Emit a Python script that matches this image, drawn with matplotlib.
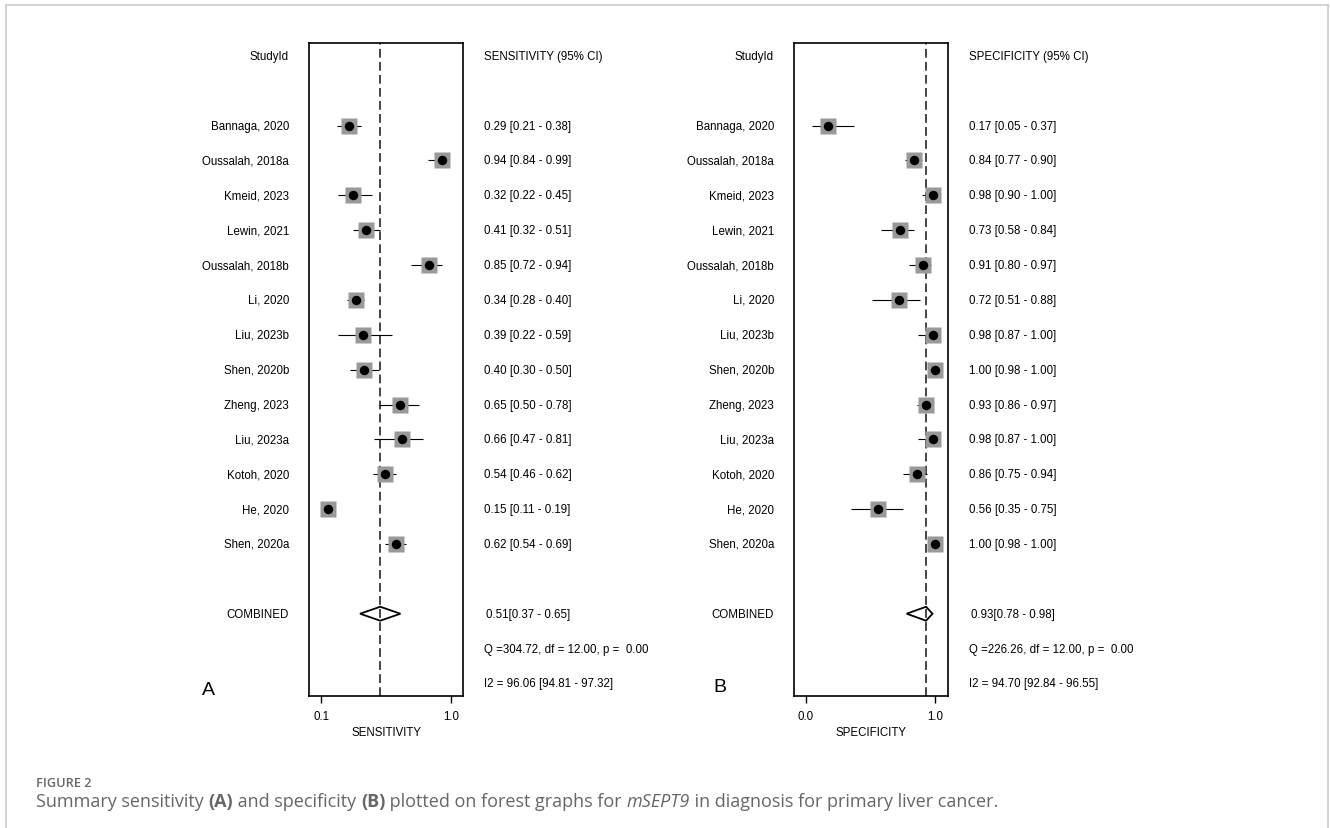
import numpy as np
import matplotlib.pyplot as plt
from matplotlib.lines import Line2D
from matplotlib.patches import Polygon
import matplotlib.transforms as mtransforms

plt.rcParams['font.family'] = ['Liberation Sans', 'DejaVu Sans']

studies = ['Bannaga, 2020', 'Oussalah, 2018a', 'Kmeid, 2023', 'Lewin, 2021',
           'Oussalah, 2018b', 'Li, 2020', 'Liu, 2023b', 'Shen, 2020b',
           'Zheng, 2023', 'Liu, 2023a', 'Kotoh, 2020', 'He, 2020', 'Shen, 2020a']

sens = [0.29, 0.94, 0.32, 0.41, 0.85, 0.34, 0.39, 0.40, 0.65, 0.66, 0.54, 0.15, 0.62]
sens_lo = [0.21, 0.84, 0.22, 0.32, 0.72, 0.28, 0.22, 0.30, 0.50, 0.47, 0.46, 0.11, 0.54]
sens_hi = [0.38, 0.99, 0.45, 0.51, 0.94, 0.40, 0.59, 0.50, 0.78, 0.81, 0.62, 0.19, 0.69]
sens_pool = (0.51, 0.37, 0.65)
sens_q = 'Q =304.72, df = 12.00, p =  0.00'
sens_i2 = 'I2 = 96.06 [94.81 - 97.32]'

spec = [0.17, 0.84, 0.98, 0.73, 0.91, 0.72, 0.98, 1.00, 0.93, 0.98, 0.86, 0.56, 1.00]
spec_lo = [0.05, 0.77, 0.90, 0.58, 0.80, 0.51, 0.87, 0.98, 0.86, 0.87, 0.75, 0.35, 0.98]
spec_hi = [0.37, 0.90, 1.00, 0.84, 0.97, 0.88, 1.00, 1.00, 0.97, 1.00, 0.94, 0.75, 1.00]
spec_pool = (0.93, 0.78, 0.98)
spec_q = 'Q =226.26, df = 12.00, p =  0.00'
spec_i2 = 'I2 = 94.70 [92.84 - 96.55]'

W, H = 1330, 829
fig = plt.figure(figsize=(W / 100, H / 100), dpi=100)
fs = 8.3


def forest(left_px, xlim, ticks, ticklabels, est, lo, hi, pool, qtxt, i2txt,
           name, letter, letter_xy):
    ax = fig.add_axes([left_px / W, 1 - 697 / H, 154 / W, 653 / H])
    ax.set_xlim(*xlim)
    ax.set_ylim(18.36, -0.37)
    rows = np.arange(2, 2 + len(studies))
    ax.hlines(rows, lo, hi, color='black', lw=0.8, zorder=2)
    ax.plot(est, rows, 's', ms=11, color='#999999', mec='none', zorder=3)
    ax.plot(est, rows, 'o', ms=6.8, color='black', mec='none', zorder=4)
    ax.axvline(pool[0], color='#444444', lw=1.4, ls=(0, (4.5, 2.2)), zorder=1)
    m, l, h = pool
    dia = Polygon([[l, 16], [m, 15.8], [h, 16], [m, 16.2]], closed=True,
                  fill=False, ec='black', lw=1.3, zorder=5)
    ax.add_patch(dia)
    for s in ax.spines.values():
        s.set_linewidth(1.2)
    ax.set_yticks([])
    ax.set_xticks(ticks)
    ax.set_xticklabels(ticklabels, fontsize=fs)
    ax.tick_params(axis='x', direction='out', length=5, width=1, pad=5)
    ax.set_xlabel(name, fontsize=fs, labelpad=3)
    tr = mtransforms.blended_transform_factory(ax.transAxes, ax.transData)
    ax.text(-0.13, 0, 'StudyId', transform=tr, ha='right', va='center', fontsize=fs)
    ax.text(1.135, 0, name + ' (95% CI)', transform=tr, ha='left', va='center', fontsize=fs)
    for r, st, e, a, b in zip(rows, studies, est, lo, hi):
        ax.text(-0.13, r, st, transform=tr, ha='right', va='center', fontsize=fs)
        ax.text(1.135, r, f'{e:.2f} [{a:.2f} - {b:.2f}]', transform=tr,
                ha='left', va='center', fontsize=fs)
    ax.text(-0.13, 16, 'COMBINED', transform=tr, ha='right', va='center', fontsize=fs)
    ax.text(1.15, 16, f'{m:.2f}[{l:.2f} - {h:.2f}]', transform=tr,
            ha='left', va='center', fontsize=fs)
    ax.text(1.135, 17, qtxt, transform=tr, ha='left', va='center', fontsize=fs)
    ax.text(1.135, 18, i2txt, transform=tr, ha='left', va='center', fontsize=fs)
    fig.text(letter_xy[0] / W, 1 - letter_xy[1] / H, letter, fontsize=14,
             ha='center', va='center')
    return ax


forest(309, (0.016, 1.084), [0.1, 1.0], ['0.1', '1.0'], sens, sens_lo, sens_hi,
       sens_pool, sens_q, sens_i2, 'SENSITIVITY', 'A', (208, 691))
forest(794, (-0.093, 1.10), [0.0, 1.0], ['0.0', '1.0'], spec, spec_lo, spec_hi,
       spec_pool, spec_q, spec_i2, 'SPECIFICITY', 'B', (720, 688))

# frame around the figure panel
bc = '#cccccc'
fig.add_artist(Line2D([6 / W, 1328 / W], [1 - 6 / H, 1 - 6 / H], color=bc, lw=1.2))
fig.add_artist(Line2D([6 / W, 6 / W], [0, 1 - 6 / H], color=bc, lw=1.2))
fig.add_artist(Line2D([1328 / W, 1328 / W], [0, 1 - 6 / H], color=bc, lw=1.2))

# caption
cap_font = ['Open Sans', 'DejaVu Sans']
gray = '#666666'
fig.text(36 / W, 1 - 784 / H, 'FIGURE 2', fontsize=9.2, family=cap_font,
         weight='semibold', color=gray, va='center')
pieces = [('Summary sensitivity ', 'normal', 'normal'),
          ('(A)', 'bold', 'normal'),
          (' and specificity ', 'normal', 'normal'),
          ('(B)', 'bold', 'normal'),
          (' plotted on forest graphs for ', 'normal', 'normal'),
          ('mSEPT9', 'normal', 'italic'),
          (' in diagnosis for primary liver cancer.', 'normal', 'normal')]
renderer = fig.canvas.get_renderer()
x = 36
for txt, wt, st in pieces:
    t = fig.text(x / W, 1 - 807 / H, txt, fontsize=13, family=cap_font,
                 weight=wt, style=st, color=gray, va='baseline')
    x += t.get_window_extent(renderer).width

fig.savefig('out.png', dpi=100)
